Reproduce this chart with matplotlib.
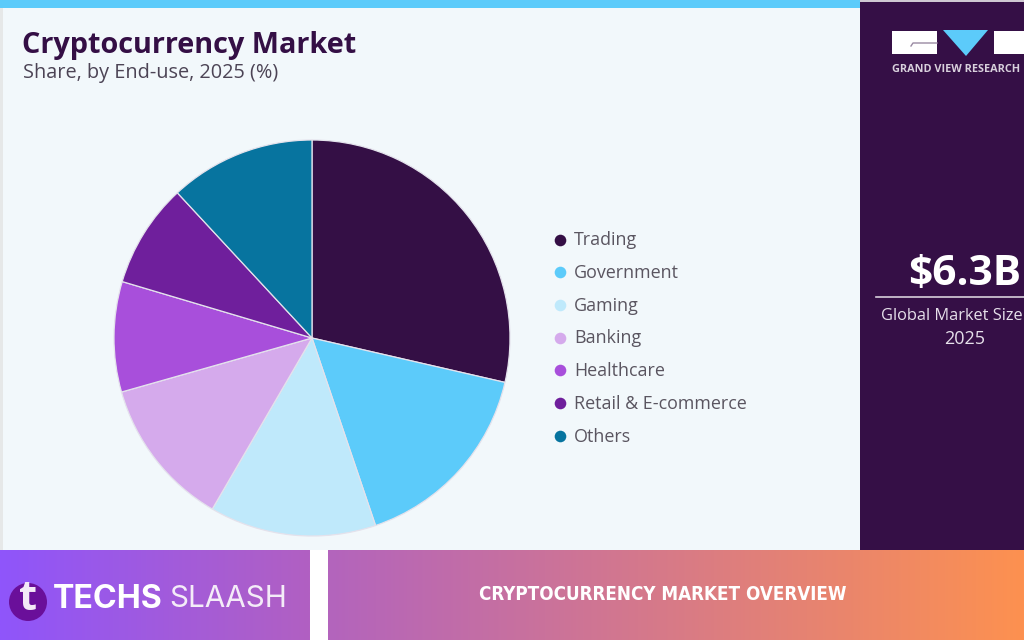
import numpy as np
import matplotlib
matplotlib.use("Agg")
import matplotlib.pyplot as plt
from matplotlib.patches import Rectangle, Polygon, Circle

categories = ["Trading", "Government", "Gaming", "Banking", "Healthcare", "Retail & E-commerce", "Others"]
shares = [28.6, 16.2, 13.6, 12.2, 9.0, 8.5, 11.9]
colors = ["#340f45", "#5ccbfa", "#bfe9fb", "#d5aaec", "#a84fdb", "#6f1f9c", "#07749f"]

W, H = 1024, 640
plt.rcParams["font.family"] = ["Open Sans", "DejaVu Sans"]
fig = plt.figure(figsize=(W / 100, H / 100), dpi=100, facecolor="white")
ax = fig.add_axes([0, 0, 1, 1])
ax.set_xlim(0, W)
ax.set_ylim(H, 0)
ax.axis("off")

def rect(x, y, w, h, c, z=1):
    ax.add_patch(Rectangle((x, y), w, h, fc=c, ec="none", zorder=z))

rect(0, 0, 860, 550, "#f2f8fb")
rect(0, 0, 3, 550, "#e6e8e8", 2)
rect(0, 0, 860, 8, "#5ccbfa", 2)
rect(860, 0, 164, 550, "#350f46", 2)
rect(860, 0, 164, 2, "#cfc8d2", 3)

# Pie
pax = fig.add_axes([(312 - 200) / W, 1 - (338 + 200) / H, 400 / W, 400 / H])
pax.pie(shares, colors=colors, startangle=90, counterclock=False, radius=198,
        frame=True, wedgeprops=dict(edgecolor="#e4e2ec", linewidth=0.9))
pax.set_xlim(-200, 200)
pax.set_ylim(-200, 200)
pax.axis("off")

# Titles
ax.text(22, 45, "Cryptocurrency Market", fontsize=20.8, fontweight="bold", color="#340f45",
        va="center", zorder=5)
ax.text(23, 73, "Share, by End-use, 2025 (%)", fontsize=14.3, color="#4c4455", va="center", zorder=5)

# Legend
for i, (name, col) in enumerate(zip(categories, colors)):
    y = 239.5 + i * 32.7
    ax.scatter([560], [y], s=70, color=col, linewidths=0, zorder=5)
    ax.text(574, y + 0.8, name, fontsize=12.9, color="#5a5560", va="center", zorder=5)

# Side panel
ax.add_patch(Polygon([[892, 31], [937, 31], [937, 54], [892, 54]], fc="white", ec="none", zorder=4))
ax.plot([911, 913, 937], [46, 43, 43], color="#9a8aa3", lw=1, zorder=5)
ax.add_patch(Polygon([[943, 30], [988, 30], [966, 56]], fc="#5ccbfa", ec="none", zorder=4))
ax.add_patch(Polygon([[994, 31], [1024, 31], [1024, 54], [994, 54]], fc="white", ec="none", zorder=4))
ax.text(892, 70, "GRAND VIEW RESEARCH", fontsize=7.8, fontweight="bold", color="#d8d0dc",
        va="center", zorder=5)
ax.text(908, 274, "$6.3B", fontsize=30.5, fontweight="bold", color="white", va="center", zorder=5)
ax.plot([876, 1024], [297, 297], color="#d8d0dc", lw=1.2, zorder=5)
ax.text(881, 316, "Global Market Size", fontsize=11.8, color="#e6e0ea", va="center", zorder=5)
ax.text(965, 339, "2025", fontsize=13, color="#e6e0ea", va="center", ha="center", zorder=5)

# Banner
def gradient(x0, x1, c0, c1):
    c0 = np.array(matplotlib.colors.to_rgb(c0))
    c1 = np.array(matplotlib.colors.to_rgb(c1))
    t = np.linspace(0, 1, 256)[None, :, None]
    ax.imshow(c0 + (c1 - c0) * t, extent=(x0, x1, 640, 550), aspect="auto", zorder=6)

gradient(0, 310, "#8f55fb", "#b160c2")
gradient(328, 1024, "#b364bd", "#fd9150")
ax.set_xlim(0, W)
ax.set_ylim(H, 0)

ax.add_patch(Circle((28, 602), 19, fc="#6a0f9a", ec="none", zorder=7))
ax.text(28, 600, "t", fontsize=30, fontweight="bold", color="#f3e9f7", family=["Open Sans"],
        ha="center", va="center", zorder=8)
ax.text(53, 599, "TECHS", fontsize=23.2, fontweight="bold", color="white", family=["Inter"],
        va="center", zorder=8)
ax.text(169, 599, "SLAASH", fontsize=21.4, color="#f4ecf8", family=["Inter"],
        va="center", zorder=8)
ax.text(663, 594, "CRYPTOCURRENCY MARKET OVERVIEW", fontsize=13.5, fontweight="bold", color="white",
        family=["DejaVu Sans"], fontstretch="condensed", ha="center", va="center", zorder=8)

fig.savefig("out.png", dpi=100)
